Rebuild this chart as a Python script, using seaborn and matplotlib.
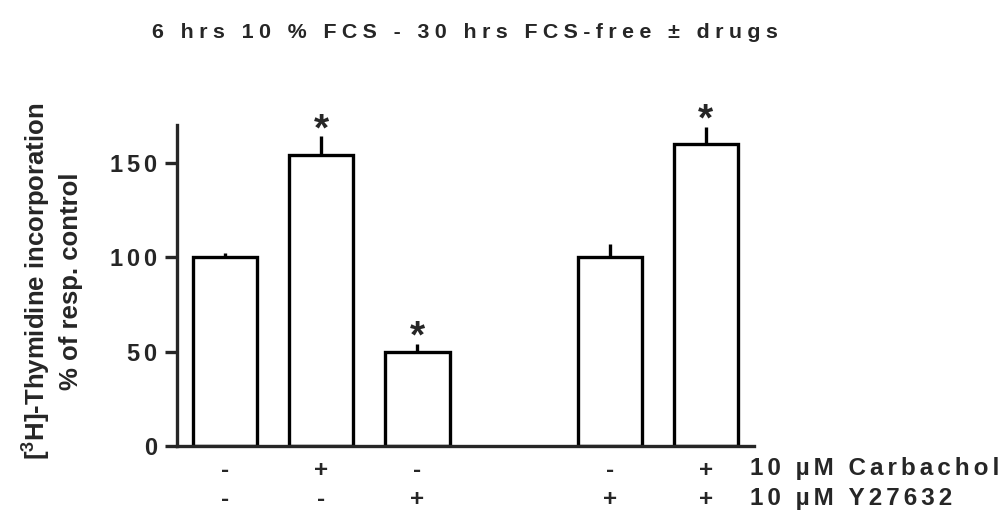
import numpy as np
import pandas as pd
import matplotlib
matplotlib.use("Agg")
import matplotlib.pyplot as plt
import seaborn as sns

# Treatment groups (the fourth slot is an intentional gap between the two series)
groups = ["ctrl", "carb", "y27", "gap", "y27_ctrl", "y27_carb"]
carbachol = ["-", "+", "-", "", "-", "+"]
y27632 = ["-", "-", "+", "", "+", "+"]
response = [100, 154, 50, np.nan, 100, 160]   # % of respective control
sem = [2, 10, 4, np.nan, 7, 9]
significant = [False, True, True, False, False, True]

title = "6 hrs 10 % FCS - 30 hrs FCS-free \u00b1 drugs"
row_labels = ["10 \u00b5M Carbachol", "10 \u00b5M Y27632"]
yticks = [0, 50, 100, 150]

sns.set_style("ticks")
plt.rcParams["font.family"] = ["Liberation Sans", "DejaVu Sans"]
plt.rcParams["font.weight"] = "bold"
plt.rcParams["mathtext.fontset"] = "custom"
plt.rcParams["mathtext.bf"] = "Liberation Sans:bold"
plt.rcParams["mathtext.rm"] = "Liberation Sans:bold"
plt.rcParams["mathtext.default"] = "bf"


def tracked(s, gap="\u2006"):
    """Widen letter spacing by inserting narrow spaces between characters."""
    return gap.join(s)


df = pd.DataFrame({"group": groups, "response": response, "sem": sem})

fig = plt.figure(figsize=(10.06, 5.14), dpi=100)
ax = fig.add_axes([0.176, 0.1323, 0.5735, 0.6247])

lw = 2.4
sns.barplot(data=df.dropna(), x="group", y="response", order=groups,
            color="white", edgecolor="black", linewidth=lw, width=0.667,
            errorbar=None, ax=ax, zorder=2)
for patch in ax.patches:
    patch.set_facecolor("white")
    patch.set_alpha(1)

# Upward-only SEM bars without caps
xs = np.arange(len(groups))
vals = np.array(response, dtype=float)
errs = np.array(sem, dtype=float)
mask = ~np.isnan(vals)
ax.errorbar(xs[mask], vals[mask], yerr=[np.zeros(mask.sum()), errs[mask]],
            fmt="none", ecolor="black", elinewidth=lw, capsize=0, zorder=1)

# Significance markers
for x, v, e, sig in zip(xs, vals, errs, significant):
    if sig:
        ax.text(x, v + e - 2.0, "*", ha="center", va="baseline",
                fontsize=28, fontweight="bold")

ax.set_xlim(-0.5, 5.5)
ax.set_ylim(0, 170)
ax.set_yticks(yticks)
ax.set_yticklabels([tracked(str(t)) for t in yticks], fontsize=17, fontweight="bold")
ax.tick_params(axis="y", length=8.6, width=lw, pad=6)
ax.tick_params(axis="x", length=0, labelbottom=False)
ax.set_xlabel("")
ax.set_ylabel("")
for side in ("top", "right"):
    ax.spines[side].set_visible(False)
for side in ("left", "bottom"):
    ax.spines[side].set_linewidth(lw)

# +/- treatment rows under each bar
trans = ax.get_xaxis_transform()
for x, c, y in zip(xs, carbachol, y27632):
    if c:
        ax.text(x, -0.075, c, transform=trans, ha="center", va="center",
                fontsize=17.5, fontweight="bold", clip_on=False)
    if y:
        ax.text(x, -0.168, y, transform=trans, ha="center", va="center",
                fontsize=17.5, fontweight="bold", clip_on=False)

fig.text(750 / 1006, 1 - 469 / 514, tracked(row_labels[0]), ha="left", va="center",
         fontsize=17.5, fontweight="bold")
fig.text(750 / 1006, 1 - 499 / 514, tracked(row_labels[1]), ha="left", va="center",
         fontsize=17.5, fontweight="bold")

# Axis label (two lines, rotated)
fig.text(52 / 1006, 1 - 281 / 514,
         "[$^{3}$H]-Thymidine incorporation\n% of resp. control",
         rotation=90, ha="center", va="center", multialignment="center",
         fontsize=18.5, fontweight="bold", linespacing=1.35)

fig.text(465 / 1006, 1 - 33 / 514, tracked(title, "\u2005"), ha="center", va="center",
         fontsize=15.4, fontweight="bold")

fig.savefig("out.png", dpi=100)
